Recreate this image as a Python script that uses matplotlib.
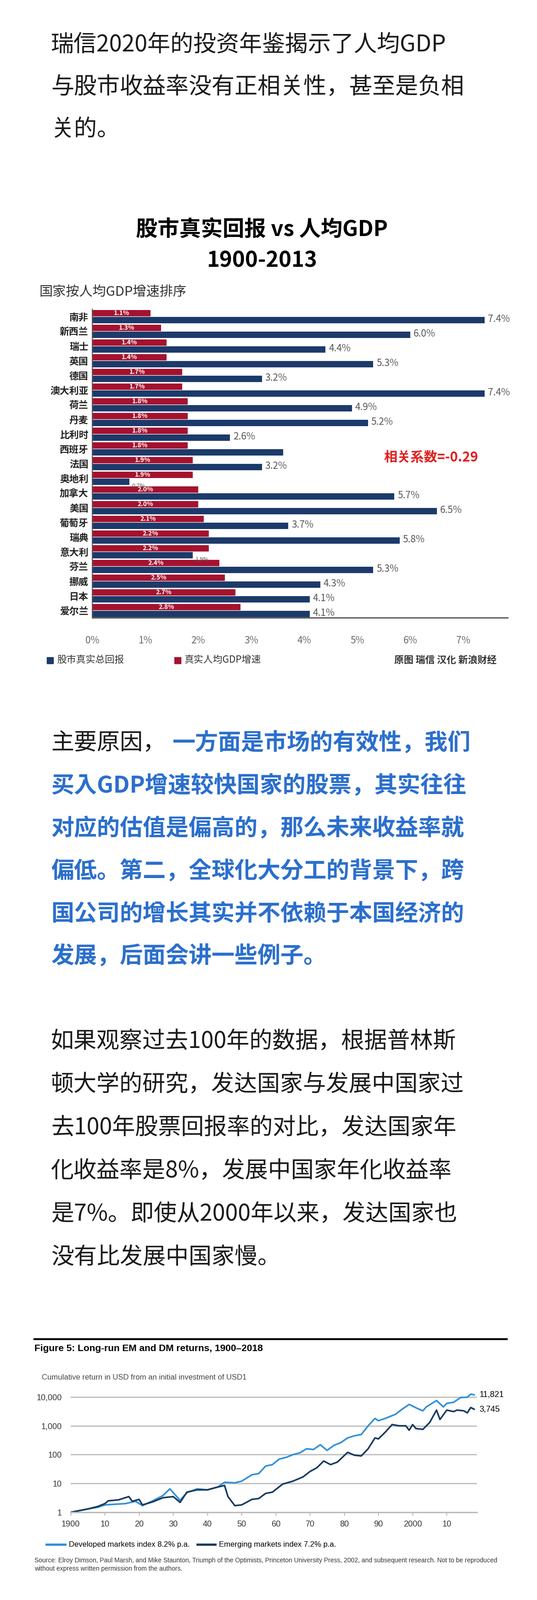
import matplotlib
matplotlib.use("Agg")
from matplotlib import pyplot as plt
from matplotlib.ticker import FixedLocator, NullLocator
import numpy as np

CJK = ["Noto Sans CJK SC", "Noto Sans CJK JP", "Noto Sans CJK TC", "Noto Sans CJK KR", "DejaVu Sans"]
plt.rcParams["font.family"] = CJK

W, H = 1170, 3484

# ---- text ----
para1 = ["瑞信2020年的投资年鉴揭示了人均GDP", "与股市收益率没有正相关性，甚至是负相", "关的。"]
para2_head = "主要原因，"
para2 = ["一方面是市场的有效性，我们", "买入GDP增速较快国家的股票，其实往往", "对应的估值是偏高的，那么未来收益率就",
         "偏低。第二，全球化大分工的背景下，跨", "国公司的增长其实并不依赖于本国经济的", "发展，后面会讲一些例子。"]
para3 = ["如果观察过去100年的数据，根据普林斯", "顿大学的研究，发达国家与发展中国家过", "去100年股票回报率的对比，发达国家年",
         "化收益率是8%，发展中国家年化收益率", "是7%。即使从2000年以来，发达国家也", "没有比发展中国家慢。"]

# ---- bar chart data ----
countries = ["南非", "新西兰", "瑞士", "英国", "德国", "澳大利亚", "荷兰", "丹麦", "比利时", "西班牙", "法国",
             "奥地利", "加拿大", "美国", "葡萄牙", "瑞典", "意大利", "芬兰", "挪威", "日本", "爱尔兰"]
gdp_growth = [1.1, 1.3, 1.4, 1.4, 1.7, 1.7, 1.8, 1.8, 1.8, 1.8, 1.9, 1.9, 2.0, 2.0, 2.1, 2.2, 2.2, 2.4, 2.5, 2.7, 2.8]
stock_return = [7.4, 6.0, 4.4, 5.3, 3.2, 7.4, 4.9, 5.2, 2.6, 3.6, 3.2, 0.7, 5.7, 6.5, 3.7, 5.8, 1.9, 5.3, 4.3, 4.1, 4.1]
return_labels = ["7.4%", "6.0%", "4.4%", "5.3%", "3.2%", "7.4%", "4.9%", "5.2%", "2.6%", "", "3.2%",
                 "0.7%", "5.7%", "6.5%", "3.7%", "5.8%", "1.9%", "5.3%", "4.3%", "4.1%", "4.1%"]
pct_ticks = [0, 1, 2, 3, 4, 5, 6, 7]

# ---- line chart data ----
dm_years = [1900, 1905, 1908, 1910, 1913, 1916, 1919, 1921, 1924, 1927, 1929, 1932, 1934, 1937, 1940, 1943, 1945,
            1948, 1950, 1953, 1955, 1957, 1959, 1961, 1963, 1965, 1967, 1969, 1971, 1973, 1975, 1977, 1979, 1981,
            1983, 1985, 1987, 1989, 1990, 1992, 1995, 1997, 1999, 2001, 2003, 2004, 2007, 2009, 2010, 2012, 2014,
            2016, 2017, 2018]
dm_values = [1, 1.3, 1.5, 1.8, 1.9, 2.0, 2.4, 1.7, 2.5, 3.8, 6.5, 2.6, 4.8, 6.5, 6, 7.5, 11,
             10.5, 12, 20, 22, 40, 45, 70, 80, 100, 115, 160, 150, 220, 140, 210, 260, 380,
             450, 500, 1000, 1800, 1500, 1800, 2500, 3800, 5500, 4200, 3300, 4500, 7500, 4500, 6000, 6500, 9500,
             9800, 12500, 11821]
em_years = [1900, 1905, 1908, 1910, 1911, 1914, 1917, 1918, 1920, 1921, 1924, 1927, 1930, 1932, 1934, 1937, 1940,
            1943, 1945, 1946, 1948, 1950, 1953, 1955, 1957, 1959, 1962, 1965, 1968, 1970, 1972, 1974, 1976, 1978,
            1981, 1983, 1985, 1987, 1989, 1990, 1992, 1994, 1996, 1998, 1999, 2000, 2001, 2003, 2005, 2007, 2008,
            2010, 2012, 2013, 2015, 2016, 2017, 2018]
em_values = [1, 1.3, 1.6, 2.0, 2.5, 2.7, 3.5, 2.4, 2.8, 1.8, 2.3, 3.2, 3.5, 2.2, 5, 6, 6,
             7.5, 8.5, 3.5, 1.7, 1.8, 2.8, 3, 4.5, 5, 9.5, 12, 17, 26, 35, 60, 45, 55,
             120, 95, 90, 160, 380, 350, 600, 1100, 1000, 1000, 700, 1100, 800, 750, 1300, 3500, 1650,
             3500, 3100, 3500, 3300, 2800, 4300, 3745]
year_ticks = [1900, 1910, 1920, 1930, 1940, 1950, 1960, 1970, 1980, 1990, 2000, 2010]
year_labels = ["1900", "10", "20", "30", "40", "50", "60", "70", "80", "90", "2000", "10"]
log_ticks = [1, 10, 100, 1000, 10000]
log_labels = ["1", "10", "100", "1,000", "10,000"]

NAVY = "#1c3a6a"
RED = "#a5122f"
BLUE_TXT = "#2b6fcd"


def fy(py):
    return 1 - py / H


def fx(px):
    return px / W


fig = plt.figure(figsize=(W / 100, H / 100), dpi=100)

body = dict(fontsize=36, va="center", ha="left", color="#1a1a1a")
for i, line in enumerate(para1):
    fig.text(fx(111), fy(98 + 92 * i), line, **body)

fig.text(fx(111), fy(1618), para2_head, **body)
for i, line in enumerate(para2):
    x = 111 + (5 * 52.8 if i == 0 else 0)
    fig.text(fx(x), fy(1618 + 93 * i), line, fontsize=36, va="center", ha="left",
             color=BLUE_TXT, fontweight="bold")

for i, line in enumerate(para3):
    fig.text(fx(111), fy(2268 + 94 * i), line, **body)

# ---- bar chart ----
fig.text(fx(570), fy(500), "股市真实回报 vs 人均GDP", fontsize=34, fontweight="bold", ha="center", va="center")
fig.text(fx(570), fy(567), "1900-2013", fontsize=34, fontweight="bold", ha="center", va="center")
fig.text(fx(86), fy(637), "国家按人均GDP增速排序", fontsize=21, ha="left", va="center", color="#333333")

ax = fig.add_axes([fx(201), fy(1345), fx(1106 - 201), (1345 - 673) / H])
y = np.arange(len(countries))
ax.barh(y - 0.23, gdp_growth, height=0.46, color=RED, edgecolor="white", linewidth=0.8)
ax.barh(y + 0.23, stock_return, height=0.46, color=NAVY, edgecolor="white", linewidth=0.8)
for i in range(len(countries)):
    ax.text(gdp_growth[i] / 2, i - 0.23, f"{gdp_growth[i]:.1f}%", color="white", fontsize=10,
            ha="center", va="center", fontweight="bold")
    if stock_return[i] < 2:
        ax.text(stock_return[i] + 0.05, i + 0.55, return_labels[i], color="#555555", fontsize=9,
                ha="left", va="center")
    else:
        ax.text(stock_return[i] + 0.06, i + 0.2, return_labels[i], color="#555555", fontsize=15,
                ha="left", va="center")
ax.set_xlim(0, (1106 - 201) / 115.5)
ax.set_ylim(len(countries) - 0.5, -0.5)
ax.set_yticks(y)
ax.set_yticklabels(countries, fontsize=15, fontweight="bold", color="#222222")
ax.set_xticks(pct_ticks)
ax.set_xticklabels([f"{t}%" for t in pct_ticks], fontsize=15, color="#666666")
ax.tick_params(length=0)
ax.tick_params(axis="x", pad=28)
ax.tick_params(axis="y", pad=6)
for s in ["top", "right"]:
    ax.spines[s].set_visible(False)
ax.spines["bottom"].set_color("#555555")
ax.spines["bottom"].set_linewidth(2)
ax.spines["left"].set_color("#333333")
ax.spines["left"].set_linewidth(1.2)
ax.text(5.5, 9.6, "相关系数=-0.29", color="#e02020", fontsize=21, fontweight="bold", ha="left", va="center")

fig.patches.append(plt.Rectangle((fx(102), fy(1445)), 14 / W, 14 / H, transform=fig.transFigure, color=NAVY))
fig.text(fx(124), fy(1437), "股市真实总回报", fontsize=15, va="center", color="#333333")
fig.patches.append(plt.Rectangle((fx(380), fy(1445)), 14 / W, 14 / H, transform=fig.transFigure, color=RED))
fig.text(fx(402), fy(1437), "真实人均GDP增速", fontsize=15, va="center", color="#333333")
fig.text(fx(1082), fy(1437), "原图 瑞信 汉化 新浪财经", fontsize=15, fontweight="bold", ha="right", va="center",
         color="#333333")

# ---- line chart ----
narrow = ["Liberation Sans Narrow", "Liberation Sans", "DejaVu Sans"]
fig.add_artist(plt.Line2D([fx(75), fx(1104)], [fy(2916), fy(2916)], color="black", lw=3))
fig.text(fx(75), fy(2937), "Figure 5: Long-run EM and DM returns, 1900–2018", fontsize=15, fontweight="bold",
         family=narrow, va="center")
fig.text(fx(91), fy(2999), "Cumulative return in USD from an initial investment of USD1", fontsize=12,
         family=narrow, va="center", color="#444444")

top = 10 ** 4.3
ax2 = fig.add_axes([fx(154), fy(3293), fx(1039 - 154), (3293 - 3023) / H])
ax2.set_yscale("log")
ax2.plot(dm_years, dm_values, color="#2f8fda", lw=2.5)
ax2.plot(em_years, em_values, color="#173a5e", lw=2.5)
ax2.set_xlim(1900, 2018.8)
ax2.set_ylim(1, top)
ax2.yaxis.set_major_locator(FixedLocator(log_ticks))
ax2.yaxis.set_minor_locator(NullLocator())
ax2.set_yticklabels(log_labels, family=narrow, fontsize=13, color="#333333")
ax2.set_xticks(year_ticks)
ax2.set_xticklabels(year_labels, family=narrow, fontsize=13, color="#333333")
ax2.grid(axis="y", color="#c4c4c4", lw=2.2)
ax2.set_axisbelow(True)
ax2.tick_params(axis="y", length=0, pad=14)
ax2.tick_params(axis="x", length=5, color="#888888", pad=8)
for s in ["top", "right", "left"]:
    ax2.spines[s].set_visible(False)
ax2.spines["bottom"].set_color("#bbbbbb")
ax2.spines["bottom"].set_linewidth(2.2)
ax2.text(2019.5, dm_values[-1], "11,821", family=narrow, fontsize=13, va="center", ha="left", clip_on=False)
ax2.text(2019.5, em_values[-1], "3,745", family=narrow, fontsize=13, va="center", ha="left", clip_on=False)

fig.add_artist(plt.Line2D([fx(101), fx(142)], [fy(3363), fy(3363)], color="#2f8fda", lw=3.5))
fig.text(fx(150), fy(3363), "Developed markets index 8.2% p.a.", family=narrow, fontsize=12, va="center")
fig.add_artist(plt.Line2D([fx(430), fx(469)], [fy(3363), fy(3363)], color="#173a5e", lw=3.5))
fig.text(fx(477), fy(3363), "Emerging markets index 7.2% p.a.", family=narrow, fontsize=12, va="center")
fig.text(fx(75), fy(3398), "Source: Elroy Dimson, Paul Marsh, and Mike Staunton, Triumph of the Optimists, "
         "Princeton University Press, 2002, and subsequent research. Not to be reproduced",
         family=narrow, fontsize=10, va="center", color="#333333")
fig.text(fx(75), fy(3416), "without express written permission from the authors.", family=narrow, fontsize=10,
         va="center", color="#333333")

fig.savefig("out.png", dpi=100, facecolor="white")
